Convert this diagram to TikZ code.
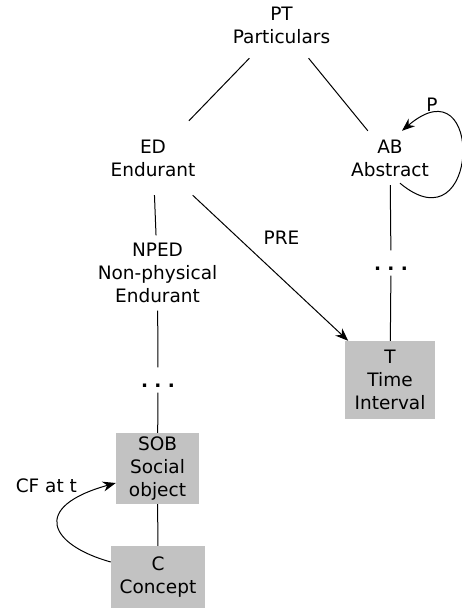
\documentclass[tikz,border=0pt]{standalone}
\usepackage{fontspec}
\setmainfont{DejaVu Sans}
\usepackage{tikz}
\usetikzlibrary{arrows.meta}
\definecolor{boxgray}{RGB}{194,194,194}

\begin{document}
\begin{tikzpicture}[
    x=1pt, y=-1pt,
    font=\fontsize{18.5}{23}\selectfont,
    term/.style={align=center, inner sep=0pt},
    block/.style={rectangle, fill=boxgray, align=center, inner sep=0pt},
    dots/.style={inner sep=0pt, text height=19.5pt, text depth=5.5pt},
    link/.style={line width=1pt},
    >={Stealth[length=13pt,width=10pt]}
]
\useasboundingbox (0,0) rectangle (462,612);

\node[term, minimum height=66pt] (pt) at (281.5,25) {PT\\Particulars};
\node[term, minimum height=74pt] (ed) at (153,158) {ED\\Endurant};
\node[term, minimum height=54pt] (ab) at (390,158) {AB\\Abstract};
\node[term, minimum height=75pt] (nped) at (157.5,273) {NPED\\Non-physical\\Endurant};
\node[dots] (dotsl) at (158,380) {\textbf{.\ .\ .}};
\node[dots] (dotsr) at (391,263) {\textbf{.\ .\ .}};
\node[block, minimum width=83pt, minimum height=71pt] (sob) at (157.5,468.5) {SOB\\Social\\object};
\node[block, minimum width=94pt, minimum height=62pt] (c) at (158,577) {C\\Concept};
\node[block, minimum width=90pt, minimum height=78pt] (t) at (390,380) {T\\Time\\Interval};

\draw[link] (pt) -- (ed);
\draw[link] (pt) -- (ab);
\draw[link] (ed) -- (nped);
\draw[link] (nped) -- (dotsl);
\draw[link] (dotsl) -- (sob);
\draw[link] (sob) -- (c);
\draw[link] (ab) -- (dotsr);
\draw[link] (dotsr) -- (t);
\draw[link,->] (ed) -- node[pos=0.4, above right=5pt] {PRE} (t);
\draw[link,->] ([xshift=10pt,yshift=2pt]ab.south)
    .. controls +(80,67) and +(83,-71) .. node[pos=0.8, above left] {P} ([xshift=12pt]ab.north);
\draw[link,->] ([yshift=15pt]c.west)
    .. controls +(-61,-17) and +(-86,24) .. node[pos=0.83, anchor=south east] {CF at t} ([yshift=-14.5pt]sob.west);
\end{tikzpicture}
\end{document}
